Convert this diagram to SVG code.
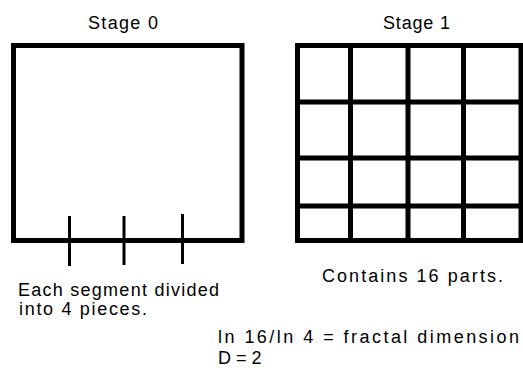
<svg xmlns="http://www.w3.org/2000/svg" width="523" height="374" viewBox="0 0 523 374">
<style>
text{font-family:"Liberation Sans",Arial,sans-serif;font-size:18px;fill:#000}
.b{fill:none;stroke:#000;stroke-width:5}
.t{stroke:#000;stroke-width:3}
</style>
<rect width="523" height="374" fill="#fff"/>
<g id="stage0">
<text x="88" y="29" textLength="70">Stage 0</text>
<rect class="b" x="13.5" y="45.5" width="228.5" height="195"/>
<line class="t" x1="69.5" y1="216" x2="69.5" y2="266"/>
<line class="t" x1="124" y1="216" x2="124" y2="265"/>
<line class="t" x1="182.5" y1="214" x2="182.5" y2="264"/>
</g>
<g id="stage1">
<text x="383" y="29" textLength="67">Stage 1</text>
<rect class="b" x="297.5" y="45.5" width="223.5" height="195"/>
<line class="b" x1="350.5" y1="45.5" x2="350.5" y2="240.5"/>
<line class="b" x1="408" y1="45.5" x2="408" y2="240.5"/>
<line class="b" x1="463.5" y1="45.5" x2="463.5" y2="240.5"/>
<line class="b" x1="297.5" y1="102" x2="521" y2="102"/>
<line class="b" x1="297.5" y1="158" x2="521" y2="158"/>
<line class="b" x1="297.5" y1="206" x2="521" y2="206"/>
</g>
<g id="labels">
<text x="18" y="296" textLength="201">Each segment divided</text>
<text x="19" y="315" textLength="128">into 4 pieces.</text>
<text x="322" y="282" textLength="181">Contains 16 parts.</text>
<text x="218" y="343" textLength="301">ln 16/ln 4 = fractal dimension</text>
<text x="218" y="364">D = 2</text>
</g>
</svg>
